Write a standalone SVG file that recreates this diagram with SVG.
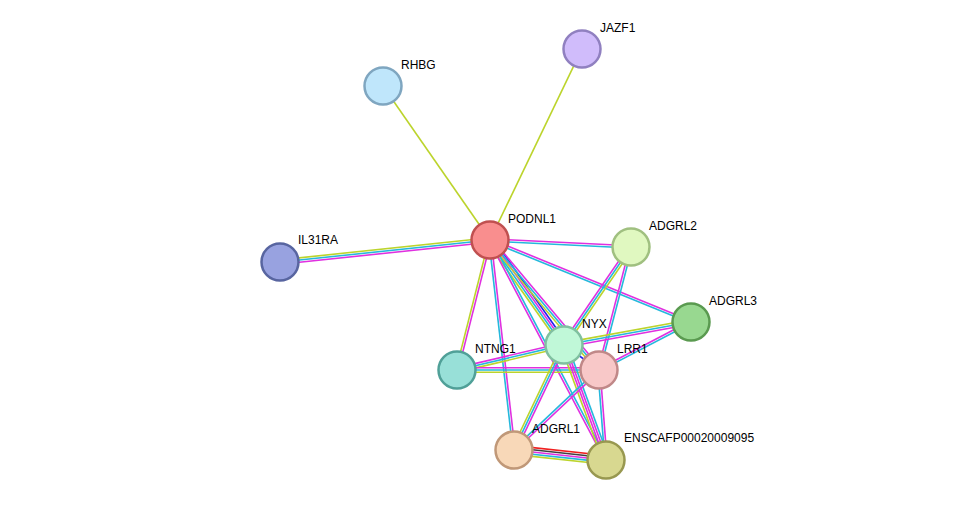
<svg xmlns="http://www.w3.org/2000/svg" width="975" height="505" viewBox="0 0 975 505">
<style>
line{stroke-width:1.6;fill:none}
.y{stroke:#bcd42c}.c{stroke:#25b8dc}.m{stroke:#e030e0}.b{stroke:#2020f0}.r{stroke:#f02020}.k{stroke:#404040}
circle{stroke-width:2.5}
text{font-family:"Liberation Sans",Arial,sans-serif;font-size:12px;fill:#000}
</style>
<rect width="975" height="505" fill="#fff"/>
<g id="connectors">
<g transform="translate(490,240) rotate(-124.8)"><line class="y" x1="0" y1="0" x2="187.5" y2="0"/></g>
<g transform="translate(490,240) rotate(-64.3)"><line class="y" x1="0" y1="0" x2="212" y2="0"/></g>
<g transform="translate(490,240) rotate(174)"><line class="m" x1="0" y1="-2.2" x2="211" y2="-2.2"/><line class="c" x1="0" y1="0" x2="211" y2="0"/><line class="y" x1="0" y1="2.2" x2="211" y2="2.2"/></g>
<g transform="translate(490,240) rotate(2.8)"><line class="m" x1="0" y1="-1.1" x2="141" y2="-1.1"/><line class="c" x1="0" y1="1.1" x2="141" y2="1.1"/></g>
<g transform="translate(490,240) rotate(22.2)"><line class="m" x1="0" y1="-1.1" x2="217" y2="-1.1"/><line class="c" x1="0" y1="1.1" x2="217" y2="1.1"/></g>
<g transform="translate(490,240) rotate(54.8)"><line class="b" x1="0" y1="-3.3" x2="128" y2="-3.3"/><line class="m" x1="0" y1="-1.1" x2="128" y2="-1.1"/><line class="c" x1="0" y1="1.1" x2="128" y2="1.1"/><line class="y" x1="0" y1="3.3" x2="128" y2="3.3"/></g>
<g transform="translate(490,240) rotate(50)"><line class="m" x1="0" y1="-2.2" x2="170" y2="-2.2"/><line class="c" x1="0" y1="0" x2="170" y2="0"/><line class="y" x1="0" y1="2.2" x2="170" y2="2.2"/></g>
<g transform="translate(490,240) rotate(104.2)"><line class="m" x1="0" y1="-1.1" x2="134" y2="-1.1"/><line class="y" x1="0" y1="1.1" x2="134" y2="1.1"/></g>
<g transform="translate(490,240) rotate(83.5)"><line class="m" x1="0" y1="-1.1" x2="211" y2="-1.1"/><line class="c" x1="0" y1="1.1" x2="211" y2="1.1"/></g>
<g transform="translate(490,240) rotate(62.2)"><line class="c" x1="0" y1="-1.1" x2="249" y2="-1.1"/><line class="m" x1="0" y1="1.1" x2="249" y2="1.1"/></g>
<g transform="translate(631,247) rotate(124.4)"><line class="y" x1="0" y1="-2.2" x2="119" y2="-2.2"/><line class="c" x1="0" y1="0" x2="119" y2="0"/><line class="m" x1="0" y1="2.2" x2="119" y2="2.2"/></g>
<g transform="translate(631,247) rotate(104.6)"><line class="c" x1="0" y1="-1.1" x2="127" y2="-1.1"/><line class="m" x1="0" y1="1.1" x2="127" y2="1.1"/></g>
<g transform="translate(691,322) rotate(169.7)"><line class="m" x1="0" y1="-2.2" x2="129" y2="-2.2"/><line class="c" x1="0" y1="0" x2="129" y2="0"/><line class="y" x1="0" y1="2.2" x2="129" y2="2.2"/></g>
<g transform="translate(691,322) rotate(152.4)"><line class="c" x1="0" y1="-1.1" x2="104" y2="-1.1"/><line class="m" x1="0" y1="1.1" x2="104" y2="1.1"/></g>
<g transform="translate(457,370) rotate(-13.2)"><line class="m" x1="0" y1="-2.2" x2="110" y2="-2.2"/><line class="c" x1="0" y1="0" x2="110" y2="0"/><line class="y" x1="0" y1="2.2" x2="110" y2="2.2"/></g>
<g transform="translate(457,370)"><line class="m" x1="0" y1="-2.2" x2="142" y2="-2.2"/><line class="c" x1="0" y1="0" x2="142" y2="0"/><line class="y" x1="0" y1="2.2" x2="142" y2="2.2"/></g>
<g transform="translate(564,345) rotate(35.5)"><line class="b" x1="0" y1="0" x2="43" y2="0"/></g>
<g transform="translate(564,345) rotate(115.5)"><line class="m" x1="0" y1="-2.2" x2="116" y2="-2.2"/><line class="c" x1="0" y1="0" x2="116" y2="0"/><line class="y" x1="0" y1="2.2" x2="116" y2="2.2"/></g>
<g transform="translate(564,345) rotate(69.9)"><line class="c" x1="0" y1="-3.3" x2="122" y2="-3.3"/><line class="m" x1="0" y1="-1.1" x2="122" y2="-1.1"/><line class="m" x1="0" y1="1.1" x2="122" y2="1.1"/><line class="y" x1="0" y1="3.3" x2="122" y2="3.3"/></g>
<g transform="translate(599,370) rotate(136.7)"><line class="m" x1="0" y1="-1.1" x2="117" y2="-1.1"/><line class="c" x1="0" y1="1.1" x2="117" y2="1.1"/></g>
<g transform="translate(599,370) rotate(85.6)"><line class="m" x1="0" y1="-1.1" x2="90" y2="-1.1"/><line class="c" x1="0" y1="1.1" x2="90" y2="1.1"/></g>
<g transform="translate(514,450) rotate(6.2)"><line class="r" x1="0" y1="-4.4" x2="92" y2="-4.4"/><line class="k" x1="0" y1="-2.2" x2="92" y2="-2.2"/><line class="m" x1="0" y1="0" x2="92" y2="0"/><line class="c" x1="0" y1="2.2" x2="92" y2="2.2"/><line class="y" x1="0" y1="4.4" x2="92" y2="4.4"/></g>
</g>
<g id="RHBG"><circle cx="383" cy="86" r="18.5" fill="#bfe6fb" stroke="#7fa6c0"/><text x="401" y="69">RHBG</text></g>
<g id="JAZF1"><circle cx="582" cy="49" r="18.5" fill="#d0bcfb" stroke="#9080c0"/><text x="600" y="32">JAZF1</text></g>
<g id="IL31RA"><circle cx="280" cy="262" r="18.5" fill="#98a2e0" stroke="#5865a0"/><text x="298" y="244">IL31RA</text></g>
<g id="PODNL1"><circle cx="490" cy="240" r="18.5" fill="#f98e8e" stroke="#c05050"/><text x="508" y="223">PODNL1</text></g>
<g id="ADGRL2"><circle cx="631" cy="247" r="18.5" fill="#e0f8c0" stroke="#a0c080"/><text x="649" y="230">ADGRL2</text></g>
<g id="ADGRL3"><circle cx="691" cy="322" r="18.5" fill="#98d890" stroke="#5a9a50"/><text x="709" y="305">ADGRL3</text></g>
<g id="NTNG1"><circle cx="457" cy="370" r="18.5" fill="#98e0d8" stroke="#50a098"/><text x="475" y="353">NTNG1</text></g>
<g id="NYX"><circle cx="564" cy="345" r="18.5" fill="#c0f8d8" stroke="#80c0a0"/><text x="582" y="328">NYX</text></g>
<g id="LRR1"><circle cx="599" cy="370" r="18.5" fill="#f8c8c8" stroke="#c08888"/><text x="617" y="353">LRR1</text></g>
<g id="ADGRL1"><circle cx="514" cy="450" r="18.5" fill="#f8d8b8" stroke="#c09878"/><text x="532" y="433">ADGRL1</text></g>
<g id="ENSCAFP00020009095"><circle cx="606" cy="460" r="18.5" fill="#d8d890" stroke="#989850"/><text x="624" y="442">ENSCAFP00020009095</text></g>
</svg>
